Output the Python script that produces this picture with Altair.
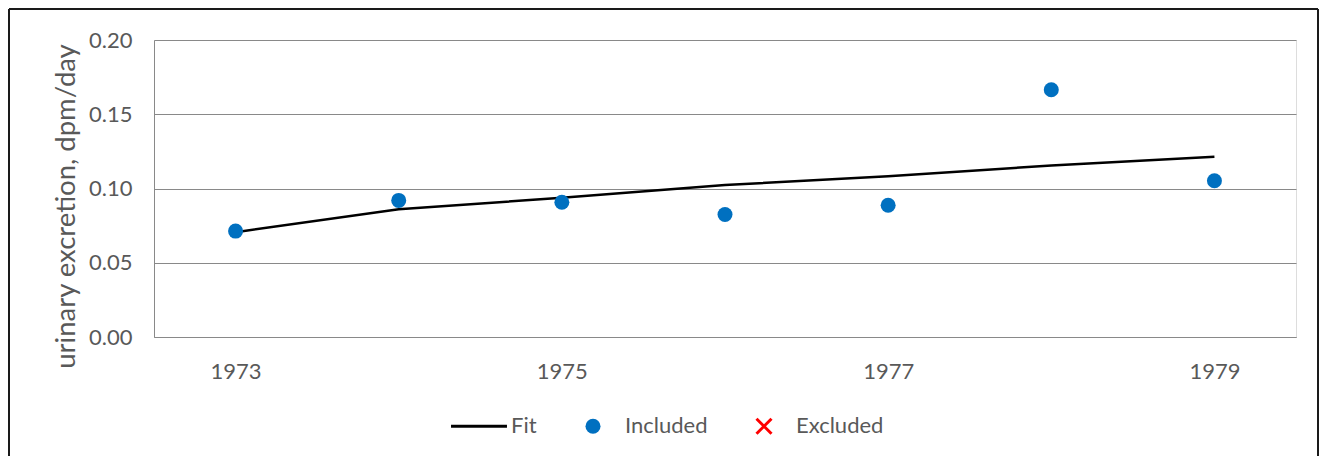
import altair as alt
import pandas as pd

years = ["1973", "1974", "1975", "1976", "1977", "1978", "1979"]
measured = [0.0713, 0.0920, 0.0907, 0.0825, 0.0887, 0.1665, 0.1052]
fit = [0.0706, 0.0860, 0.0938, 0.1023, 0.1082, 0.1155, 0.1213]
series_names = ["Fit", "Included", "Excluded"]
series_colors = ["#000000", "#0070C0", "#FF0000"]
y_ticks = [0.0, 0.05, 0.10, 0.15, 0.20]
x_label_years = ["1973", "1975", "1977", "1979"]

FONT = "Lato"
GREY = "#595959"

df_pts = pd.DataFrame({"year": years, "value": measured, "series": "Included"})
df_fit = pd.DataFrame({"year": years, "value": fit, "series": "Fit"})

x_enc = alt.X(
    "year:O",
    scale=alt.Scale(type="point", padding=0.5, domain=years),
    axis=alt.Axis(
        title=None, values=x_label_years, labelAngle=0, ticks=False,
        labelPadding=24, domainColor="#898989", domainWidth=1,
        labelFont=FONT, labelFontSize=22, labelColor=GREY,
    ),
)
y_enc = alt.Y(
    "value:Q",
    scale=alt.Scale(domain=[0, 0.2], nice=False, zero=True),
    axis=alt.Axis(
        title="urinary excretion, dpm/day", values=y_ticks, format=".2f",
        ticks=False, labelPadding=22, domainColor="#898989", domainWidth=1,
        gridColor="#898989", gridWidth=1, grid=True,
        labelFont=FONT, labelFontSize=22, labelColor=GREY,
        titleFont=FONT, titleFontSize=27.5, titleColor=GREY, titleFontWeight="normal",
        titlePadding=8, titleY=166,
    ),
)

color_scale = alt.Scale(domain=series_names, range=series_colors)
shape_scale = alt.Scale(
    domain=series_names,
    range=["M0,-1M0,1M-3.73,0L3.73,0", "circle", "M-1,-1L1,1M1,-1L-1,1"],
)

legend = alt.Legend(
    title=None, orient="none", direction="horizontal", legendX=314, legendY=375,
    labelFont=FONT, labelFontSize=22, labelColor=GREY, columnPadding=42,
    labelOffset=21, padding=0, symbolSize=225, symbolStrokeWidth=3,
    symbolStrokeColor={"expr": "datum.value === 'Fit' ? '#000000' : (datum.value === 'Excluded' ? '#FF0000' : 'transparent')"},
)

line = alt.Chart(df_fit).mark_line(strokeWidth=2.5, color="#000000").encode(
    x=x_enc, y=y_enc,
)

points = alt.Chart(df_pts).mark_point(filled=True, opacity=1, size=225).encode(
    x=x_enc, y=y_enc,
    color=alt.Color("series:N", scale=color_scale, legend=legend),
    shape=alt.Shape("series:N", scale=shape_scale, legend=legend),
)

frame_data = alt.Data(values=[{"k": 1}])
top_rule = alt.Chart(frame_data).mark_rule(color="#1a1a1a", strokeWidth=2).encode(
    x=alt.value(-145), x2=alt.value(1164), y=alt.value(-31))
left_rule = alt.Chart(frame_data).mark_rule(color="#1a1a1a", strokeWidth=2).encode(
    x=alt.value(-145), y=alt.value(-31), y2=alt.value(420))
right_rule = alt.Chart(frame_data).mark_rule(color="#1a1a1a", strokeWidth=2).encode(
    x=alt.value(1164), y=alt.value(-31), y2=alt.value(420))

chart = alt.layer(line, points, top_rule, left_rule, right_rule).properties(
    width=1142, height=297,
    autosize=alt.AutoSizeParams(type="none"),
    padding={"left": 146, "top": 32, "right": 24, "bottom": 119},
).configure_view(stroke=None).configure(background="white")

chart.save("out.html", embed_options={"renderer": "svg", "actions": False})
